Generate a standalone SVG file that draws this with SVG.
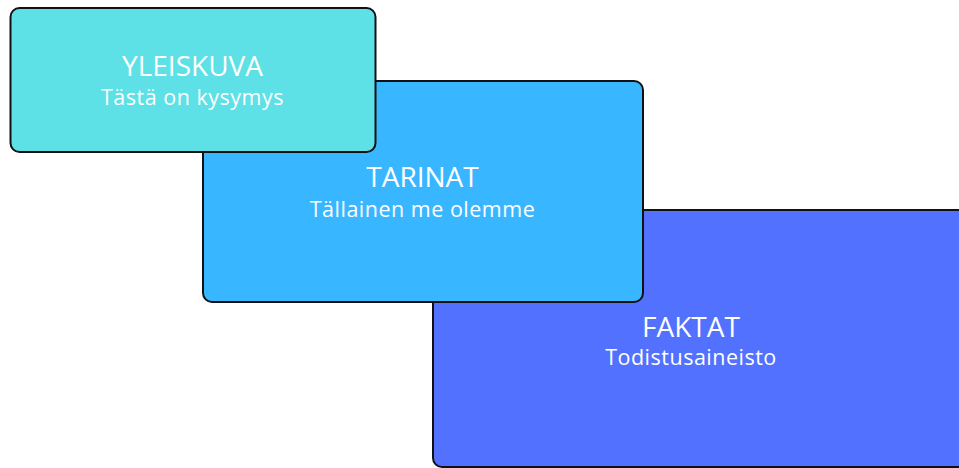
<svg xmlns="http://www.w3.org/2000/svg" width="959" height="468" viewBox="0 0 959 468">
<style>
.box{stroke:#111;stroke-width:2}
.t{font-family:"Open Sans","Liberation Sans",sans-serif;fill:#ffffff;text-anchor:middle}
.h{font-size:28px}
.s{font-size:21.5px;letter-spacing:0.5px}
</style>
<rect width="959" height="468" fill="#ffffff"/>
<g id="faktat">
<rect class="box" x="433" y="210" width="560" height="257" rx="9" fill="#5271FF"/>
<text class="t h" x="691" y="336.5">FAKTAT</text>
<text class="t s" x="691" y="365">Todistusaineisto</text>
</g>
<g id="tarinat">
<rect class="box" x="203" y="81" width="440" height="221" rx="9" fill="#38B6FF"/>
<text class="t h" x="422.5" y="187">TARINAT</text>
<text class="t s" x="422.5" y="216.5">Tällainen me olemme</text>
</g>
<g id="yleiskuva">
<rect class="box" x="10.5" y="8" width="365" height="144" rx="9" fill="#5DE0E6"/>
<text class="t h" x="192.5" y="76">YLEISKUVA</text>
<text class="t s" x="192.5" y="105">Tästä on kysymys</text>
</g>
<g id="connectors"></g>
</svg>
